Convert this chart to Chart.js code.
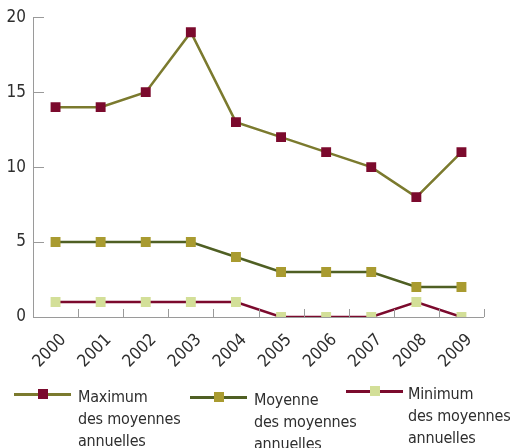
<!DOCTYPE html>
<html>
<head>
<meta charset="utf-8">
<script src="https://cdn.jsdelivr.net/npm/chart.js@4"></script>
<style>
  body { margin: 0; background: #fff; }
  #wrap { position: relative; width: 510px; height: 448px; overflow: hidden; }
  #legend { position: absolute; left: 0; top: 0; width: 510px; height: 448px; pointer-events: none; }
  .ln { position: absolute; height: 3px; width: 57px; }
  .sq { position: absolute; width: 10px; height: 10px; }
  .txt { position: absolute; font: 16px 'DejaVu Sans Condensed', sans-serif; color: #2e2e2e; line-height: 22px; white-space: nowrap; letter-spacing: -0.2px; }
</style>
</head>
<body>
<div id="wrap">
  <canvas id="myChart" width="510" height="372"></canvas>
  <div id="legend"></div>
</div>
<script>
const years = ['2000','2001','2002','2003','2004','2005','2006','2007','2008','2009'];
const maxVals = [14, 14, 15, 19, 13, 12, 11, 10, 8, 11];
const meanVals = [5, 5, 5, 5, 4, 3, 3, 3, 2, 2];
const minVals = [1, 1, 1, 1, 1, 0, 0, 0, 1, 0];
const seriesNames = ['Maximum\ndes moyennes\nannuelles', 'Moyenne\ndes moyennes\nannuelles', 'Minimum\ndes moyennes\nannuelles'];
const yTicks = [0, 5, 10, 15, 20];

const lineColors = ['#7b7a2e', '#4f5f23', '#7b0a2d'];
const dotColors = ['#7b0a2d', '#a99b30', '#d3df98'];
const axisColor = '#9a9a9a';
const fontFam = "'DejaVu Sans Condensed', sans-serif";

// ticks drawn inward, like the original
const inTicks = {
  id: 'inTicks',
  afterDraw(chart) {
    const ctx = chart.ctx, x = chart.scales.x, y = chart.scales.y, a = chart.chartArea;
    ctx.save();
    ctx.strokeStyle = axisColor;
    ctx.lineWidth = 1;
    ctx.beginPath();
    ctx.moveTo(a.left + 0.5, a.top);
    ctx.lineTo(a.left + 0.5, a.bottom + 0.5);
    ctx.lineTo(a.right, a.bottom + 0.5);
    yTicks.forEach(v => {
      const py = Math.round(y.getPixelForValue(v)) + 0.5;
      ctx.moveTo(a.left, py);
      ctx.lineTo(a.left + 11, py);
    });
    for (let i = 0; i < years.length; i++) {
      const px = Math.round((x.getPixelForValue(i) + (i < years.length - 1 ? x.getPixelForValue(i + 1) : 2 * x.getPixelForValue(i) - x.getPixelForValue(i - 1))) / 2) + 0.5;
      ctx.moveTo(px, a.bottom);
      ctx.lineTo(px, a.bottom - 8);
    }
    ctx.stroke();
    ctx.restore();
  }
};

const vals = [maxVals, meanVals, minVals];
new Chart(document.getElementById('myChart'), {
  type: 'line',
  data: {
    labels: years,
    datasets: vals.map((d, i) => ({
      label: seriesNames[i],
      data: d,
      borderColor: lineColors[i],
      borderWidth: 2.5,
      pointStyle: 'rect',
      pointRadius: 7,
      pointBorderWidth: 0,
      pointBackgroundColor: dotColors[i],
      pointBorderColor: dotColors[i],
      tension: 0
    })).reverse()
  },
  options: {
    responsive: false,
    animation: false,
    layout: { padding: { top: 17, right: 26, left: 0, bottom: 0 } },
    plugins: { legend: { display: false }, tooltip: { enabled: false } },
    scales: {
      x: {
        offset: true,
        grid: { display: false, drawTicks: false },
        border: { display: false },
        ticks: { color: '#2e2e2e', font: { family: fontFam, size: 17 }, minRotation: 45, maxRotation: 45, padding: 13, labelOffset: 8 },
        afterFit(s) { s.height = 372 - 317; }
      },
      y: {
        min: 0, max: 20,
        afterBuildTicks(s) { s.ticks = yTicks.map(v => ({ value: v })); },
        grid: { display: false, drawTicks: false },
        border: { display: false },
        ticks: { color: '#2e2e2e', font: { family: fontFam, size: 17 }, padding: 7 },
        afterFit(s) { s.width = 33; }
      }
    }
  },
  plugins: [inTicks]
});

// legend below the chart
const legendPos = [[14, 394, 78], [190, 397, 254], [346, 391, 408]];
const leg = document.getElementById('legend');
seriesNames.forEach((name, i) => {
  const [lx, ly, tx] = legendPos[i];
  const ln = document.createElement('div');
  ln.className = 'ln';
  ln.style.left = lx + 'px'; ln.style.top = (ly - 1) + 'px';
  ln.style.background = lineColors[i];
  const sq = document.createElement('div');
  sq.className = 'sq';
  sq.style.left = (lx + 24) + 'px'; sq.style.top = (ly - 5) + 'px';
  sq.style.background = dotColors[i];
  const t = document.createElement('div');
  t.className = 'txt';
  t.style.left = tx + 'px'; t.style.top = (ly - 8) + 'px';
  t.innerText = name;
  leg.append(ln, sq, t);
});
</script>
</body>
</html>
